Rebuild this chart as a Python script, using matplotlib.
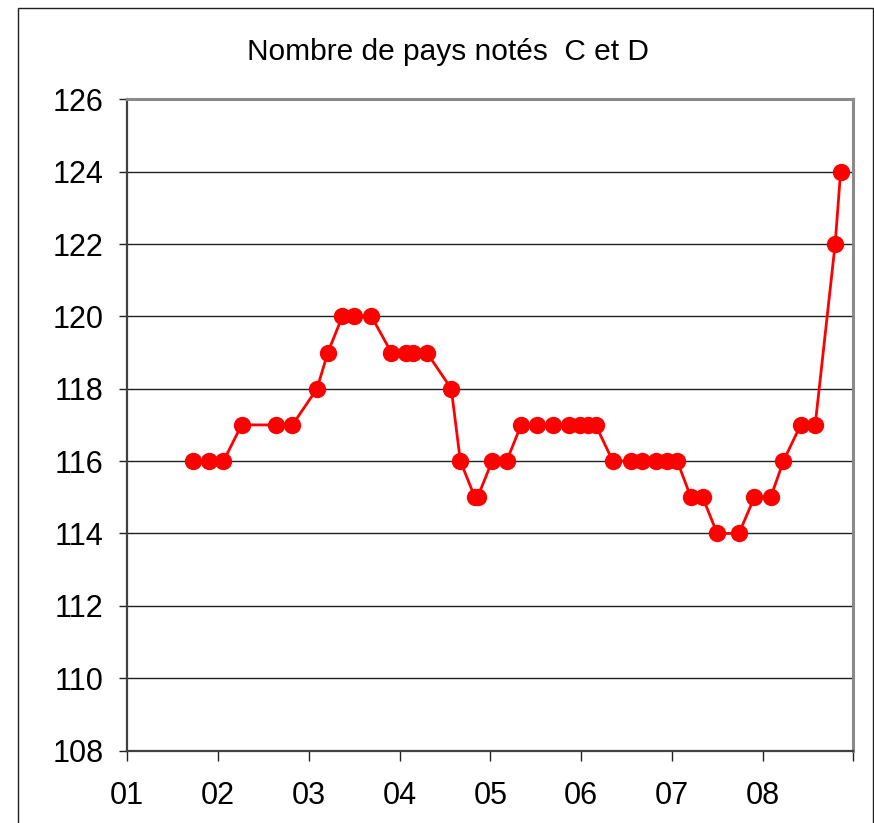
import matplotlib.pyplot as plt
from matplotlib.patches import Rectangle

# dates as decimal years, number of countries rated C and D
dates = [2001.72, 2001.90, 2002.06, 2002.26, 2002.64, 2002.82, 2003.09, 2003.21,
         2003.37, 2003.50, 2003.69, 2003.91, 2004.07, 2004.15, 2004.30, 2004.57,
         2004.67, 2004.83, 2004.86, 2005.02, 2005.18, 2005.34, 2005.52, 2005.69,
         2005.87, 2005.99, 2006.08, 2006.16, 2006.35, 2006.55, 2006.67, 2006.83,
         2006.95, 2007.06, 2007.21, 2007.34, 2007.50, 2007.74, 2007.91, 2008.09,
         2008.23, 2008.42, 2008.58, 2008.80, 2008.86]
counts = [116, 116, 116, 117, 117, 117, 118, 119, 120, 120, 120, 119, 119, 119, 119, 118,
          116, 115, 115, 116, 116, 117, 117, 117, 117, 117, 117, 117, 116, 116, 116, 116,
          116, 116, 115, 115, 114, 114, 115, 115, 116, 117, 117, 122, 124]
year_ticks = [2001, 2002, 2003, 2004, 2005, 2006, 2007, 2008, 2009]
year_labels = ['01', '02', '03', '04', '05', '06', '07', '08', '']
title = 'Nombre de pays notés  C et D'

plt.rcParams['font.family'] = ['Liberation Sans', 'DejaVu Sans']

W, H = 874, 823
fig = plt.figure(figsize=(W / 100, H / 100), dpi=100)
ax = fig.add_axes([127.3 / W, 1 - 750.5 / H, (853.3 - 127.3) / W, (750.5 - 99.3) / H])

# outer chart frame
fig.patches.append(Rectangle((17.5 / W, -0.05), (872.5 - 17.5) / W, 1.05 - 7.5 / H,
                             transform=fig.transFigure, fill=False,
                             edgecolor='#202020', linewidth=1.0))

ax.plot(dates, counts, color='#ff0000', linewidth=2.0, marker='o',
        markersize=12.5, markeredgewidth=0, zorder=3, clip_on=False)

ax.set_xlim(2001, 2009)
ax.set_ylim(108, 126)
ax.set_yticks(range(108, 127, 2))
ax.set_xticks(year_ticks)
ax.set_xticklabels(year_labels)
ax.grid(axis='y', color='#202020', linewidth=1.0)
ax.set_axisbelow(True)

for side in ('top', 'right'):
    ax.spines[side].set_color('#8a8a8a')
    ax.spines[side].set_linewidth(2.2)
for side in ('left', 'bottom'):
    ax.spines[side].set_color('#404040')
    ax.spines[side].set_linewidth(1.6)

ax.tick_params(axis='y', length=6, width=1, color='#202020', pad=11, labelsize=22)
ax.tick_params(axis='x', length=7, width=1, color='#202020', pad=15, labelsize=22)

fig.text(448 / W, 1 - 52 / H, title, ha='center', va='center', fontsize=21.5)

fig.savefig('out.png', dpi=100, facecolor='white')
